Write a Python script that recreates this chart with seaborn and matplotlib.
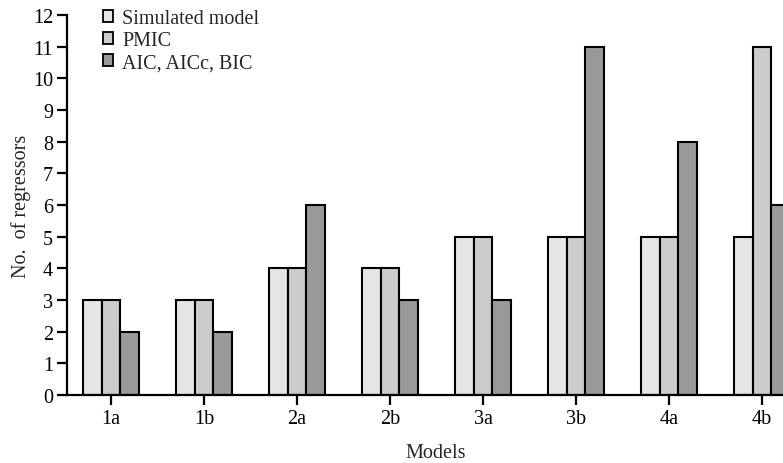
import matplotlib
matplotlib.use("Agg")
import matplotlib.pyplot as plt
import pandas as pd
import seaborn as sns

MODELS = ["1a", "1b", "2a", "2b", "3a", "3b", "4a", "4b"]
SIMULATED = [3, 3, 4, 4, 5, 5, 5, 5]
PMIC = [3, 3, 4, 4, 5, 5, 5, 11]
AIC = [2, 2, 6, 3, 3, 11, 8, 6]
METHODS = ["Simulated model", "PMIC", "AIC, AICc, BIC"]
COLORS = ["#e5e5e5", "#cccccc", "#999999"]


def build_frame() -> pd.DataFrame:
    rows = []
    for method, values in zip(METHODS, [SIMULATED, PMIC, AIC]):
        for model, val in zip(MODELS, values):
            rows.append({"Models": model, "Method": method, "Count": val})
    return pd.DataFrame(rows)


def main() -> None:
    sns.set_theme(style="ticks")
    plt.rcParams["font.family"] = ["Liberation Serif", "DejaVu Serif"]
    fs = 14.5

    df = build_frame()
    fig = plt.figure(figsize=(7.83, 4.64), dpi=100)
    ax = fig.add_axes([0.0856, 0.1466, 0.9425, 0.8190])

    sns.barplot(
        data=df, x="Models", y="Count", hue="Method", order=MODELS,
        hue_order=METHODS, palette=COLORS, edgecolor="black",
        linewidth=1.5, width=0.6, gap=0, saturation=1, ax=ax,
    )

    ax.set_xlim(-0.473, 7.462)
    ax.set_ylim(0, 12)
    ax.set_yticks(range(0, 13))
    ax.set_xlabel("Models", fontsize=fs, labelpad=11)
    ax.set_ylabel("No.  of regressors", fontsize=fs, labelpad=1)
    for side in ["top", "right"]:
        ax.spines[side].set_visible(False)
    for side in ["left", "bottom"]:
        ax.spines[side].set_linewidth(1.6)
        ax.spines[side].set_color("black")
    ax.tick_params(axis="both", direction="out", length=7, width=1.6,
                   colors="black", labelsize=fs)
    ax.tick_params(axis="x", pad=3)
    ax.tick_params(axis="y", pad=3)

    leg = ax.legend(
        loc="upper left", bbox_to_anchor=(0.024, 1.063), frameon=False,
        handlelength=0.5, handleheight=0.5, handletextpad=0.45,
        labelspacing=0.15, fontsize=fs,
    )
    for h in leg.legend_handles:
        h.set_edgecolor("black")
        h.set_linewidth(1.3)

    fig.savefig("out.png", dpi=100)


if __name__ == "__main__":
    main()
